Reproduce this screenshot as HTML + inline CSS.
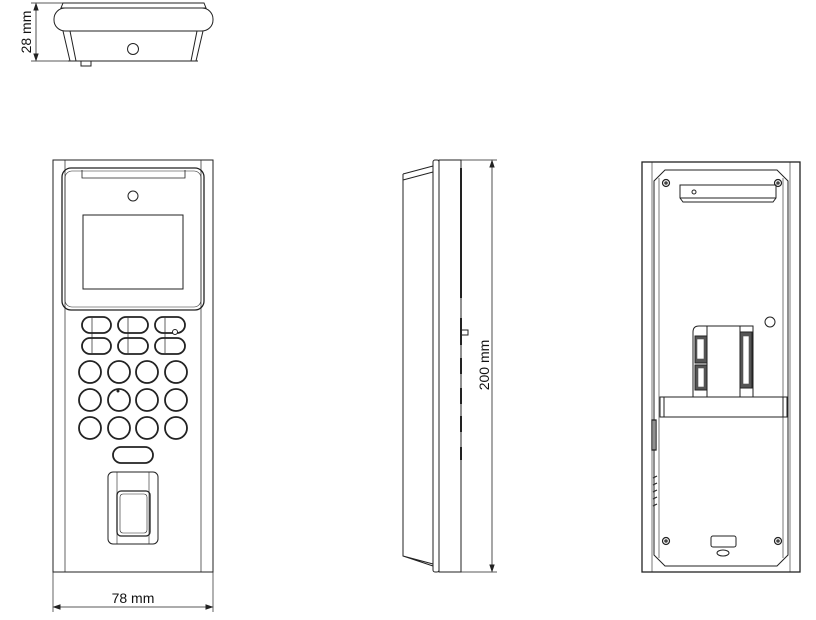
<!DOCTYPE html>
<html><head><meta charset="utf-8"><style>
html,body{margin:0;padding:0;background:#fff;}
svg{display:block}
text{font-family:"Liberation Sans",sans-serif;fill:#111}
</style></head><body>
<svg width="816" height="620" viewBox="0 0 816 620" xmlns="http://www.w3.org/2000/svg" fill="none" stroke="#222" stroke-width="1">
<!-- TOP VIEW -->
<line x1="31" y1="3" x2="65" y2="3" stroke-width="0.7"/>
<line x1="31" y1="61" x2="70" y2="61" stroke-width="0.7"/>
<line x1="36" y1="4" x2="36" y2="60" stroke-width="0.8"/>
<path d="M36 4 l-2 6 h4z M36 60 l-2 -6 h4z" fill="#222"/>
<text x="31" y="32" font-size="14" text-anchor="middle" transform="rotate(-90 31 32)" stroke="none">28 mm</text>
<path d="M63 3 H204 L206 8 H61 Z"/>
<rect x="54" y="8" width="159" height="23" rx="11"/>
<path d="M63 31 L70 61 M70 31 L76 61 M203 31 L196 61 M197 31 L191 61 M68 61 H198"/>
<circle cx="133" cy="49" r="5.5"/>
<rect x="81" y="61" width="10" height="5"/>
<!-- FRONT VIEW -->
<rect x="53" y="160" width="160" height="412"/>
<line x1="65" y1="160" x2="65" y2="572" stroke-width="0.7"/>
<line x1="201" y1="160" x2="201" y2="572" stroke-width="0.7"/>
<rect x="62" y="168" width="142" height="142" rx="9" stroke-width="1.3"/>
<rect x="65" y="171" width="136" height="136" rx="7" stroke-width="0.6"/>
<path d="M82 170 V178 H185 V170" stroke-width="0.8"/>
<circle cx="133" cy="196" r="5"/>
<rect x="83" y="215" width="100" height="74"/>
<g stroke-width="1.8">
<rect x="82" y="317" width="29" height="16" rx="8"/><rect x="118" y="317" width="30" height="16" rx="8"/><rect x="155" y="317" width="30" height="16" rx="8"/>
<rect x="82" y="338" width="29" height="16" rx="8"/><rect x="118" y="338" width="30" height="16" rx="8"/><rect x="155" y="338" width="30" height="16" rx="8"/>
<circle cx="90" cy="372" r="11"/><circle cx="119" cy="372" r="11"/><circle cx="147" cy="372" r="11"/><circle cx="176" cy="372" r="11"/>
<circle cx="90" cy="400" r="11"/><circle cx="119" cy="400" r="11"/><circle cx="147" cy="400" r="11"/><circle cx="176" cy="400" r="11"/>
<circle cx="90" cy="428" r="11"/><circle cx="119" cy="428" r="11"/><circle cx="147" cy="428" r="11"/><circle cx="176" cy="428" r="11"/>
<rect x="113" y="447" width="40" height="16" rx="8"/>
</g>
<path d="M92 318 V353 M128 318 V353 M165 318 V353" stroke-width="0.7"/>
<circle cx="175" cy="332" r="2.5" fill="#fff"/>
<circle cx="118" cy="391" r="1" fill="#222"/>
<rect x="108" y="472" width="50" height="72" rx="5"/>
<path d="M117 472 V544 M149 472 V544" stroke-width="0.6"/>
<rect x="117" y="491" width="33" height="45" rx="4" stroke-width="1.3"/>
<rect x="120" y="494" width="27" height="39" rx="3" stroke-width="0.6"/>
<line x1="53" y1="572" x2="53" y2="612" stroke-width="0.7"/>
<line x1="213" y1="572" x2="213" y2="612" stroke-width="0.7"/>
<line x1="54" y1="607" x2="212" y2="607" stroke-width="0.8"/>
<path d="M54 607 l6 -2 v4z M212 607 l-6 -2 v4z" fill="#222"/>
<text x="133" y="603" font-size="14" text-anchor="middle" stroke="none">78 mm</text>
<!-- SIDE VIEW -->
<path d="M403 174 L433 166 M403 180 L433 172 M403 174 V556 L433 566 M403 556 L433 564"/>
<rect x="433" y="160" width="6" height="412" rx="2"/>
<rect x="439" y="160" width="22" height="412"/>
<path d="M461 168 V298 M461 318 V345 M461 358 V374 M461 388 V404 M461 416 V432 M461 447 V460" stroke-width="2"/>
<rect x="461" y="330" width="7" height="5"/>
<line x1="460" y1="160" x2="497" y2="160" stroke-width="0.7"/>
<line x1="460" y1="572" x2="497" y2="572" stroke-width="0.7"/>
<line x1="492" y1="161" x2="492" y2="571" stroke-width="0.8"/>
<path d="M492 161 l-2 6 h4z M492 571 l-2 -6 h4z" fill="#222"/>
<text x="489" y="365" font-size="14" text-anchor="middle" transform="rotate(-90 489 365)" stroke="none">200 mm</text>
<!-- BACK VIEW -->
<rect x="642" y="162" width="158" height="410" stroke-width="1.3"/>
<path d="M652 162 V572 M790 162 V572" stroke-width="0.6"/>
<path d="M665 170 H777 L788 181 V555 L777 566 H665 L654 555 V181 Z"/>
<path d="M659 178 V558 M783 178 V558" stroke-width="0.6"/>
<g stroke-width="1.2"><circle cx="666" cy="183" r="3.5"/><circle cx="778" cy="183" r="3.5"/><circle cx="666" cy="541" r="3.5"/><circle cx="778" cy="541" r="3.5"/></g>
<g fill="#444" stroke="none"><circle cx="666" cy="183" r="1.8"/><circle cx="778" cy="183" r="1.8"/><circle cx="666" cy="541" r="1.8"/><circle cx="778" cy="541" r="1.8"/></g>
<path d="M680 185 H776 V198 L773 202 H683 L680 198 Z M680 198 H776"/>
<circle cx="694" cy="192" r="2"/>
<circle cx="770" cy="322" r="5"/>
<path d="M693 397 V332 Q693 326 699 326 H753 V397"/>
<path d="M707 326 V397 M740 326 V397"/>
<rect x="695" y="336" width="12" height="27" fill="#555"/>
<rect x="697" y="339" width="7" height="20" fill="#fff" stroke="#555" stroke-width="0.6"/>
<rect x="695" y="365" width="12" height="25" fill="#555"/>
<rect x="698" y="368" width="6" height="19" fill="#fff" stroke="#555" stroke-width="0.6"/>
<rect x="740" y="332" width="12" height="56" fill="#555"/>
<rect x="743" y="336" width="6" height="48" fill="#fff" stroke="#555" stroke-width="0.6"/>
<rect x="660" y="397" width="127" height="20"/>
<path d="M664 397 V417 M783 397 V417"/>
<rect x="652" y="420" width="4" height="30" stroke-width="1.3"/>
<path d="M653 478 L657 476 M653 485 L657 483 M653 492 L657 490 M653 499 L657 497 M653 506 L657 504" stroke-width="1.2"/>
<rect x="711" y="536" width="25" height="11" rx="2"/>
<ellipse cx="723" cy="553" rx="6" ry="3"/>
</svg>
</body></html>
